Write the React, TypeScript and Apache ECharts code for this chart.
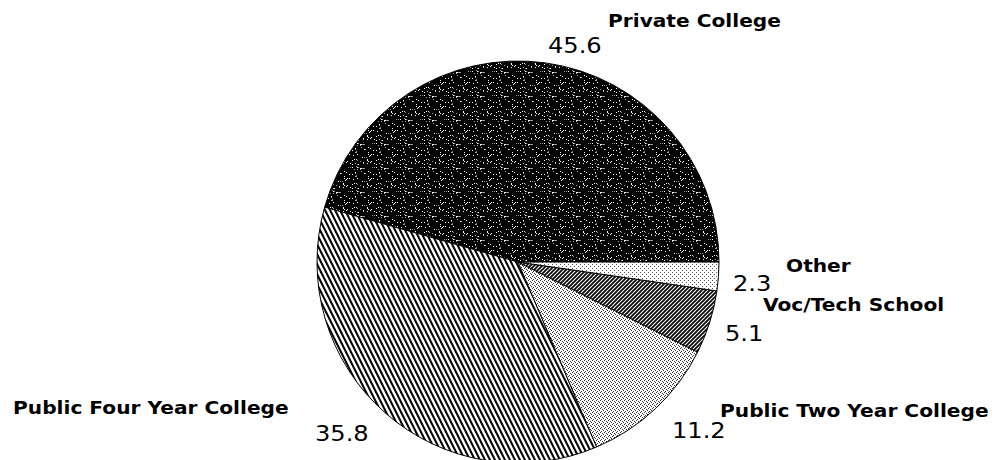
import React, { useEffect, useRef } from 'react';
import * as echarts from 'echarts';

// ---- data ----
const categories = ['Private College', 'Public Four Year College', 'Public Two Year College', 'Voc/Tech School', 'Other'];
const values = [45.6, 35.8, 11.2, 5.1, 2.3];
const valueLabels = ['45.6', '35.8', '11.2', '5.1', '2.3'];

// ---- label layout (left x, top y) ----
const nameLayout = [
  [608, 12],
  [13, 399],
  [720, 402],
  [763, 296],
  [786, 257],
];
const valueLayout = [
  [548, 35.5],
  [315, 423.5],
  [672, 420.5],
  [725, 323.5],
  [733, 273.5],
];

function makeCanvas(w: number, h: number, draw: (ctx: CanvasRenderingContext2D) => void) {
  const c = document.createElement('canvas');
  c.width = w;
  c.height = h;
  const ctx = c.getContext('2d')!;
  draw(ctx);
  return c;
}

function speckle() {
  return makeCanvas(24, 24, (ctx) => {
    ctx.fillStyle = '#000';
    ctx.fillRect(0, 0, 24, 24);
    for (let y = 0; y < 24; y++) {
      for (let x = 0; x < 24; x++) {
        const h = ((x * 73856093) ^ (y * 19349663)) >>> 0;
        const v = (h % 97);
        if (v < 9) {
          ctx.fillStyle = v < 4 ? '#fff' : '#999';
          ctx.fillRect(x, y, 1, 1);
        }
      }
    }
  });
}

function backHatch() {
  return makeCanvas(5, 10, (ctx) => {
    ctx.fillStyle = '#fff';
    ctx.fillRect(0, 0, 5, 10);
    ctx.strokeStyle = '#000';
    ctx.lineWidth = 2;
    for (const x0 of [-5, 0, 5]) {
      ctx.beginPath();
      ctx.moveTo(x0 - 0.5, -1);
      ctx.lineTo(x0 + 5.5, 11);
      ctx.stroke();
    }
  });
}

function fwdHatch() {
  return makeCanvas(4, 4, (ctx) => {
    ctx.fillStyle = '#fff';
    ctx.fillRect(0, 0, 4, 4);
    ctx.strokeStyle = '#000';
    ctx.lineWidth = 1.7;
    for (const x0 of [-4, 0, 4]) {
      ctx.beginPath();
      ctx.moveTo(x0 - 1, 5);
      ctx.lineTo(x0 + 5, -1);
      ctx.stroke();
    }
  });
}

function dots(pts: number[][], w: number, h: number, color: string) {
  return makeCanvas(w, h, (ctx) => {
    ctx.fillStyle = '#fff';
    ctx.fillRect(0, 0, w, h);
    ctx.fillStyle = color;
    for (const [x, y] of pts) ctx.fillRect(x, y, 1, 1);
  });
}

export default function App() {
  const ref = useRef<HTMLDivElement>(null);
  useEffect(() => {
    if (!ref.current) return;
    const chart = echarts.init(ref.current, undefined, { renderer: 'svg' });
    const patterns = [
      speckle(),
      backHatch(),
      dots([[0, 0], [2, 1], [1, 3], [3, 2]], 4, 4, '#333'),
      fwdHatch(),
      dots([[0, 0], [2, 2]], 4, 4, '#555'),
    ];
    const data = categories.map((name, i) => ({
      name,
      value: values[i],
      itemStyle: { color: { image: patterns[i], repeat: 'repeat' } as any },
    }));
    const graphic: any[] = [];
    categories.forEach((name, i) => {
      graphic.push({
        type: 'text',
        x: nameLayout[i][0],
        y: nameLayout[i][1],
        scaleX: 1.12,
        silent: true,
        style: {
          text: name,
          fontFamily: 'DejaVu Sans',
          fontSize: 18,
          fontWeight: 'bold',
          fill: '#000',
          align: 'left',
          verticalAlign: 'top',
        },
      });
      graphic.push({
        type: 'text',
        x: valueLayout[i][0],
        y: valueLayout[i][1],
        scaleX: 1.15,
        silent: true,
        style: {
          text: valueLabels[i],
          fontFamily: 'DejaVu Sans',
          fontSize: 21,
          fontWeight: 'normal',
          fill: '#000',
          align: 'left',
          verticalAlign: 'top',
        },
      });
    });
    chart.setOption({
      animation: false,
      backgroundColor: '#fff',
      graphic,
      series: [
        {
          type: 'pie',
          center: [518, 262],
          radius: [0, 201],
          startAngle: 0,
          clockwise: false,
          silent: true,
          label: { show: false },
          labelLine: { show: false },
          emphasis: { disabled: true },
          itemStyle: { borderColor: '#000', borderWidth: 1 },
          data,
        },
      ],
    });
    return () => chart.dispose();
  }, []);
  return (
    <div
      ref={ref}
      style={{ position: 'fixed', left: 0, top: 0, width: 997, height: 460 }}
    />
  );
}
